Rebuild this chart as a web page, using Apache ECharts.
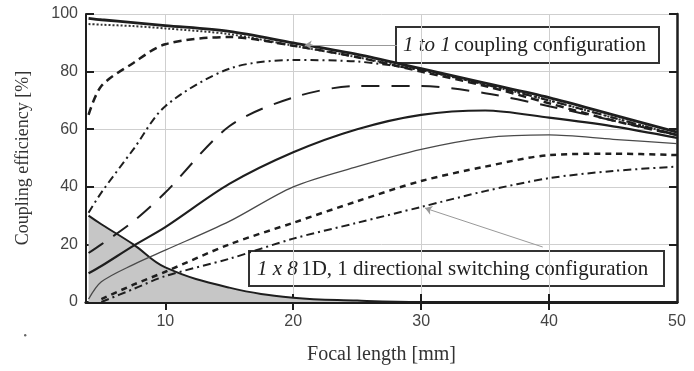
<!DOCTYPE html>
<html>
<head>
<meta charset="utf-8">
<script src="https://cdn.jsdelivr.net/npm/echarts@6/dist/echarts.min.js"></script>
<style>
  html, body { margin: 0; padding: 0; background: #fff; }
  #chart { width: 694px; height: 371px; }
</style>
</head>
<body>
<div id="chart"></div>
<script>
// focal lengths [mm] shared by every curve
var focal = [4, 5, 7.5, 10, 15, 20, 25, 30, 35, 40, 45, 50];

// 1 to 1 coupling (top group)
var topSolid   = [98.5, 98, 97, 96, 94, 90, 86, 81, 76, 71, 65, 59];
var topDotted  = [96.5, 96.3, 95.8, 95, 93, 89, 85, 80.5, 75.5, 70, 64, 58];
var topDashed  = [65, 75, 83, 89.5, 92, 89, 85, 80, 75, 69, 63, 58];
var topDashDot = [31, 38, 53, 68, 81, 84, 83.5, 80.5, 75.5, 70, 64, 58];
var longDash   = [17, 20, 28, 38, 61, 71, 75, 75, 72.5, 68, 63, 58];

// 1 x 8 switching (lower group)
var midSolid   = [10, 12.5, 19.5, 26, 41, 52, 60, 65, 66.5, 64, 61, 57];
var thinSolid  = [1, 7, 13, 18, 28, 40, 47, 53, 57, 58, 56.5, 55];
var lowDashed  = [null, 1, 6, 10.5, 20, 27.5, 35, 42, 47, 51, 51.5, 51];
var lowDashDot = [null, 0, 4.5, 9, 15, 22, 27.5, 33, 38.5, 43, 45.5, 47];
var shaded     = [30, 27, 20, 12, 5, 1.5, 0.5, 0, 0, 0, 0, 0];

var xTickValues = [10, 20, 30, 40];
var xLabelValues = [10, 20, 30, 40, 50];

// annotation arrows [from, to] in data coordinates
var arrowTop = [[28.1, 89.2], [20.9, 89.2]];
var arrowLow = [[39.5, 19.1], [30.3, 32.6]];

function pairs(ys) {
  return focal.map(function (x, i) { return [x, ys[i]]; });
}

var SERIF = '"Liberation Serif", "DejaVu Serif", serif';
var SANS = '"Liberation Sans", Arial, sans-serif';
var INK = '#1e1e1e';

function line(name, ys, width, type, color, extra) {
  var s = {
    name: name,
    type: 'line',
    data: pairs(ys),
    smooth: 0.3,
    symbol: 'none',
    z: 3,
    lineStyle: { color: color || INK, width: width, type: type }
  };
  for (var k in extra) s[k] = extra[k];
  return s;
}

var chart = echarts.init(document.getElementById('chart'));
chart.setOption({
  animation: false,
  backgroundColor: '#fff',
  textStyle: { fontFamily: SANS },
  grid: { left: 86, right: 17, top: 14, bottom: 69 },
  xAxis: [
    {
      type: 'value', min: 3.8, max: 50, position: 'bottom',
      name: 'Focal length [mm]', nameLocation: 'middle', nameGap: 43,
      nameTextStyle: { fontFamily: SERIF, fontSize: 20, color: '#333' },
      axisLine: { lineStyle: { color: INK, width: 3 } },
      axisTick: { inside: true, length: 8, customValues: xTickValues, lineStyle: { color: INK, width: 2 } },
      axisLabel: { customValues: xLabelValues, margin: 12, color: '#444', fontSize: 16 },
      splitLine: { show: true, lineStyle: { color: '#cfcfcf', width: 1 } }
    },
    {
      type: 'value', min: 3.8, max: 50, position: 'top',
      axisLine: { lineStyle: { color: INK, width: 2.5 } },
      axisTick: { inside: true, length: 8, customValues: xTickValues, lineStyle: { color: INK, width: 2 } },
      axisLabel: { show: false },
      splitLine: { show: false }
    }
  ],
  yAxis: [
    {
      type: 'value', min: 0, max: 100, interval: 20, position: 'left',
      name: 'Coupling efficiency [%]', nameLocation: 'middle', nameGap: 54,
      nameTextStyle: { fontFamily: SERIF, fontSize: 18, color: '#333' },
      axisLine: { show: true, lineStyle: { color: INK, width: 2 } },
      axisTick: { show: true, inside: true, length: 8, lineStyle: { color: INK, width: 2 } },
      axisLabel: { margin: 8, color: '#444', fontSize: 16 },
      splitLine: { show: true, lineStyle: { color: '#cfcfcf', width: 1 } }
    },
    {
      type: 'value', min: 0, max: 100, interval: 20, position: 'right',
      axisLine: { show: true, lineStyle: { color: INK, width: 2.5 } },
      axisTick: { show: true, inside: true, length: 8, lineStyle: { color: INK, width: 2 } },
      axisLabel: { show: false },
      splitLine: { show: false }
    }
  ],
  series: [
    line('shaded', shaded, 2, 'solid', INK, {
      smooth: 0.4, z: 2,
      areaStyle: { color: '#c6c6c6', opacity: 1 }
    }),
    line('topDotted', topDotted, 2, [2, 2], '#333'),
    line('topDashed', topDashed, 2.5, [8, 5]),
    line('topDashDot', topDashDot, 2, [8, 4, 2, 4]),
    line('longDash', longDash, 2, [18, 12]),
    line('midSolid', midSolid, 2.2, 'solid'),
    line('thinSolid', thinSolid, 1.3, 'solid', '#4a4a4a'),
    line('lowDashed', lowDashed, 2.5, [6, 5]),
    line('lowDashDot', lowDashDot, 2, [8, 4, 2, 4]),
    line('topSolid', topSolid, 2.8, 'solid', INK, {
      markLine: {
        silent: true,
        symbol: ['none', 'arrow'],
        symbolSize: 7,
        label: { show: false },
        lineStyle: { color: '#999', width: 1, type: 'solid' },
        data: [
          [{ coord: arrowTop[0] }, { coord: arrowTop[1] }],
          [{ coord: arrowLow[0] }, { coord: arrowLow[1] }]
        ]
      }
    })
  ],
  graphic: [
    {
      type: 'group', left: 395, top: 26, z: 100,
      children: [
        { type: 'rect', shape: { x: 0, y: 0, width: 263, height: 36 },
          style: { fill: '#fff', stroke: '#333', lineWidth: 2 } },
        { type: 'text', x: 7, y: 18,
          style: {
            text: '{i|1 to 1} {n|coupling configuration}',
            verticalAlign: 'middle', fill: '#222',
            rich: {
              i: { fontFamily: SERIF, fontSize: 21, fontStyle: 'italic', fill: '#222' },
              n: { fontFamily: SERIF, fontSize: 21, fill: '#222' }
            }
          } }
      ]
    },
    {
      type: 'group', left: 248, top: 250, z: 100,
      children: [
        { type: 'rect', shape: { x: 0, y: 0, width: 415, height: 35 },
          style: { fill: '#fff', stroke: '#333', lineWidth: 2 } },
        { type: 'text', x: 8, y: 18,
          style: {
            text: '{i|1 x 8} {n|1D, 1 directional switching configuration}',
            verticalAlign: 'middle', fill: '#222',
            rich: {
              i: { fontFamily: SERIF, fontSize: 21, fontStyle: 'italic', fill: '#222' },
              n: { fontFamily: SERIF, fontSize: 21, fill: '#222' }
            }
          } }
      ]
    },
    { type: 'circle', left: 24, top: 334, shape: { r: 1.2 }, style: { fill: '#666' } }
  ]
});
</script>
</body>
</html>
